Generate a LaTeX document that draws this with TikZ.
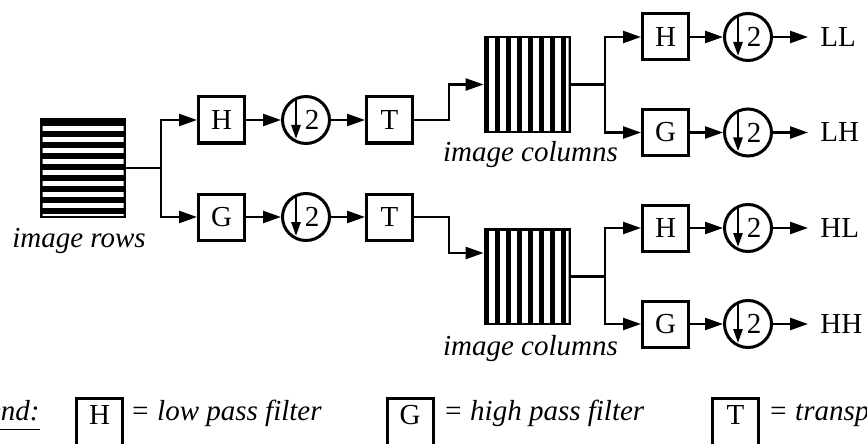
\documentclass[tikz,border=0pt]{standalone}
\usepackage{fontspec}
\setmainfont{Liberation Serif}
\usetikzlibrary{arrows.meta}

\begin{document}
\begin{tikzpicture}[x=0.5pt, y=-0.5pt,
        every node/.style={font=\fontsize{14.5}{17}\selectfont},
        filt/.style={draw, line width=1.5pt, minimum size=23pt, inner sep=0pt},
        legbox/.style={filt, anchor=north, text height=9.5pt, text depth=20pt, inner ysep=3.25pt},
        legtxt/.style={anchor=base west, inner sep=0pt},
        dsamp/.style={draw, circle, line width=1.5pt, minimum size=23.5pt, inner sep=0pt},
        outlbl/.style={anchor=west, inner xsep=6pt, inner ysep=0pt},
        wire/.style={line width=1.25pt},
        arr/.style={line width=1.25pt, -{Triangle[length=9pt, width=6pt]}},
        darr/.style={line width=1.25pt, -{Triangle[length=7pt, width=4.5pt]}},
        rowimg/.style={fill=black, minimum width=43pt, minimum height=50pt, inner sep=0pt,
            path picture={
                \clip ([shift={(1.25pt,-1.25pt)}]path picture bounding box.north west) rectangle
                    ([shift={(-1.25pt,1.25pt)}]path picture bounding box.south east);
                \foreach \i in {0,...,8}
                    \fill[white] ([yshift=-4pt-5.5pt*\i]path picture bounding box.north west) rectangle
                        ([yshift=-6.5pt-5.5pt*\i]path picture bounding box.north east);
            }},
        colimg/.style={fill=black, minimum width=43.5pt, minimum height=48.5pt, inner sep=0pt,
            path picture={
                \clip ([shift={(1.25pt,-1.5pt)}]path picture bounding box.north west) rectangle
                    ([shift={(-1.25pt,1.3pt)}]path picture bounding box.south east);
                \foreach \i in {0,...,7}
                    \fill[white] ([xshift=2.65pt+5.5pt*\i]path picture bounding box.north west) rectangle
                        ([xshift=5.4pt+5.5pt*\i]path picture bounding box.south west);
            }}]
        \useasboundingbox (0,0) rectangle (867,444);
        \clip (0,0) rectangle (867,444);

        \node[rowimg] (rows) at (83,168) {};
        \node[anchor=base] (rowlbl) at (79,247) {\textit{image rows}};

        \node[filt] (h1) at (221.5,120) {H};
        \node[dsamp] (d1) at (306,120) {\hspace*{6pt}2};
        \node[filt] (t1) at (389.5,120) {T};
        \node[filt] (g1) at (221.5,217) {G};
        \node[dsamp] (d2) at (306,217) {\hspace*{6pt}2};
        \node[filt] (t2) at (389.5,217) {T};

        \node[colimg] (c1) at (527.5,84.5) {};
        \node[anchor=base] (c1lbl) at (530.5,162) {\textit{image columns}};
        \node[colimg] (c2) at (527.5,276.5) {};
        \node[anchor=base] (c2lbl) at (530.5,355) {\textit{image columns}};

        \node[filt] (h2) at (665.5,37) {H};
        \node[dsamp] (d3) at (748,37) {\hspace*{6pt}2};
        \node[outlbl] (ll) at (808,37) {LL};
        \node[filt] (g2) at (665.5,132.5) {G};
        \node[dsamp] (d4) at (748,132.5) {\hspace*{6pt}2};
        \node[outlbl] (lh) at (808,132.5) {LH};
        \node[filt] (h3) at (665.5,228) {H};
        \node[dsamp] (d5) at (748,228) {\hspace*{6pt}2};
        \node[outlbl] (hl) at (808,228) {HL};
        \node[filt] (g3) at (665.5,324) {G};
        \node[dsamp] (d6) at (748,324) {\hspace*{6pt}2};
        \node[outlbl] (hh) at (808,324) {HH};

        \foreach \d in {d1,d2,d3,d4,d5,d6}
            \draw[darr] ([shift={(-10,-21.3)}]\d.center) -- ([shift={(-10,19)}]\d.center);

        \coordinate (j1) at (161,168);
        \draw[wire] (rows) -- (j1);
        \draw[arr] (j1) |- (h1);
        \draw[arr] (j1) |- (g1);
        \draw[arr] (h1) -- (d1);
        \draw[arr] (d1) -- (t1);
        \draw[arr] (g1) -- (d2);
        \draw[arr] (d2) -- (t2);

        \coordinate (k1) at (449,120);
        \coordinate (k2) at (449,217);
        \draw[arr] (t1) -- (k1) |- (c1);
        \draw[arr] (t2) -- (k2) |- ([yshift=11.75pt]c2.west);

        \coordinate (j2) at (605,84.5);
        \draw[wire] (c1) -- (j2);
        \draw[arr] (j2) |- (h2);
        \draw[arr] (j2) |- (g2);
        \coordinate (j3) at (605,276.5);
        \draw[wire] (c2) -- (j3);
        \draw[arr] (j3) |- (h3);
        \draw[arr] (j3) |- (g3);

        \draw[arr] (h2) -- (d3);
        \draw[arr] (d3) -- (ll);
        \draw[arr] (g2) -- (d4);
        \draw[arr] (d4) -- (lh);
        \draw[arr] (h3) -- (d5);
        \draw[arr] (d5) -- (hl);
        \draw[arr] (g3) -- (d6);
        \draw[arr] (d6) -- (hh);

        \node[anchor=base east, inner sep=0pt] (leg) at (40,420) {\underline{\textit{Legend:}}};
        \node[legbox] (legh) at (99.5,397) {H};
        \node[legtxt] (leghtxt) at (130,420) {\textit{= low pass filter}};
        \node[legbox] (legg) at (410,397) {G};
        \node[legtxt] (leggtxt) at (443,420) {\textit{= high pass filter}};
        \node[legbox] (legt) at (735.5,397) {T};
        \node[legtxt] (legttxt) at (768,420) {\textit{= transpose}};
\end{tikzpicture}
\end{document}
